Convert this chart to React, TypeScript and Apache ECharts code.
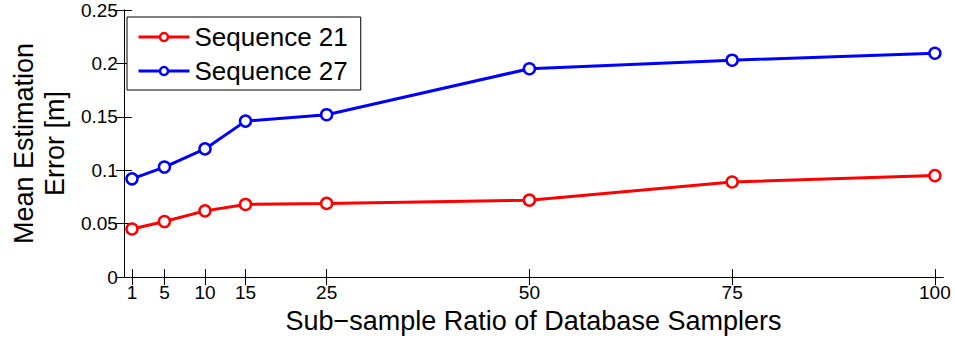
import React, { useEffect, useRef } from "react";
import * as echarts from "echarts";

const xTicks = [1, 5, 10, 15, 25, 50, 75, 100];
const seq21 = [0.045, 0.052, 0.062, 0.068, 0.069, 0.072, 0.089, 0.095];
const seq27 = [0.092, 0.103, 0.12, 0.146, 0.152, 0.195, 0.203, 0.2095];
const seriesNames = ["Sequence 21", "Sequence 27"];
const colors = ["#ff0000", "#0000ff"];

const FONT = "'Liberation Sans', Arial, Helvetica, sans-serif";

export default function App() {
  const ref = useRef<HTMLDivElement>(null);
  useEffect(() => {
    if (!ref.current) return;
    const chart = echarts.init(ref.current, null, { renderer: "svg" });
    const axisLine = { show: true, lineStyle: { color: "#000", width: 1 } };
    const tickStyle = { show: true, inside: true, length: 8, lineStyle: { color: "#000", width: 1 } };
    const mk = (name: string, data: number[], color: string) => ({
      name,
      type: "line",
      data: xTicks.map((x, i) => [x, data[i]]),
      symbol: "circle",
      symbolSize: 11,
      showSymbol: true,
      lineStyle: { color, width: 3 },
      itemStyle: { color: "#fff", borderColor: color, borderWidth: 2.5 },
      emphasis: { disabled: true },
    });
    chart.setOption({
      animation: false,
      textStyle: { fontFamily: FONT },
      grid: { left: 122, right: 12, top: 10, bottom: 61, containLabel: false },
      legend: {
        orient: "vertical",
        left: 127,
        top: 17,
        padding: [7, 13, 6, 10],
        itemGap: 8,
        itemWidth: 51,
        itemHeight: 10,
        backgroundColor: "#fff",
        borderColor: "#000",
        borderWidth: 1,
        borderRadius: 0,
        textStyle: { fontSize: 26, color: "#000", fontFamily: FONT },
        data: seriesNames.map((n, i) => ({
          name: n,
          itemStyle: { color: "#fff", borderColor: colors[i], borderWidth: 2.5 },
          lineStyle: { color: colors[i], width: 3 },
        })),
      },
      xAxis: [
        {
          type: "value",
          min: 0,
          max: 101,
          position: "bottom",
          name: "Sub\u2212sample Ratio of Database Samplers",
          nameLocation: "middle",
          nameGap: 28,
          nameTextStyle: { fontSize: 27, color: "#000", fontFamily: FONT, verticalAlign: "top" },
          axisLine,
          axisTick: { ...tickStyle, customValues: xTicks },
          axisLabel: { customValues: xTicks, fontSize: 19, color: "#000", margin: 6, fontFamily: FONT },
          splitLine: { show: false },
        },
        {
          type: "value",
          min: 0,
          max: 101,
          position: "top",
          axisLine,
          axisTick: { ...tickStyle, customValues: xTicks },
          axisLabel: { show: false },
          splitLine: { show: false },
        },
      ],
      yAxis: [
        {
          type: "value",
          min: 0,
          max: 0.25,
          interval: 0.05,
          position: "left",
          name: "Mean Estimation\nError [m]",
          nameLocation: "middle",
          nameRotate: 90,
          nameGap: 52,
          nameTextStyle: { fontSize: 27, color: "#000", lineHeight: 31, fontFamily: FONT },
          axisLine,
          axisTick: tickStyle,
          axisLabel: { fontSize: 19, color: "#000", margin: 6, fontFamily: FONT },
          splitLine: { show: false },
        },
        {
          type: "value",
          min: 0,
          max: 0.25,
          interval: 0.05,
          position: "right",
          axisLine,
          axisTick: tickStyle,
          axisLabel: { show: false },
          splitLine: { show: false },
        },
      ],
      series: [mk(seriesNames[0], seq21, colors[0]), mk(seriesNames[1], seq27, colors[1])],
    });
    return () => chart.dispose();
  }, []);
  return (
    <div
      ref={ref}
      style={{ position: "absolute", left: 0, top: 0, width: 955, height: 339, background: "#fff" }}
    />
  );
}
